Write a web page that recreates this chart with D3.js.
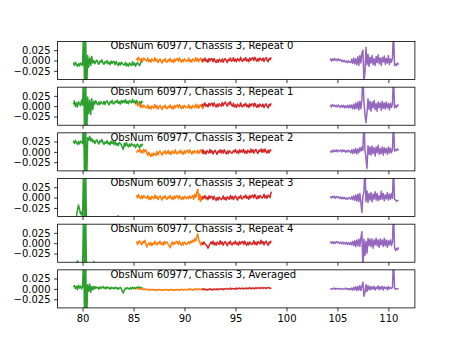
<!DOCTYPE html>
<html><head><meta charset="utf-8">
<script src="https://cdn.jsdelivr.net/npm/d3@7"></script>
<style>body{margin:0;background:#fff}</style>
</head><body>
<script>
// Panel titles
const titles = ["ObsNum 60977, Chassis 3, Repeat 0","ObsNum 60977, Chassis 3, Repeat 1","ObsNum 60977, Chassis 3, Repeat 2","ObsNum 60977, Chassis 3, Repeat 3","ObsNum 60977, Chassis 3, Repeat 4","ObsNum 60977, Chassis 3, Averaged"];
const xTicks = [80, 85, 90, 95, 100, 105, 110];
const yTicks = [-0.025, 0, 0.025];
// sample grids (start, step) per series
const greenStart = 79.1, orangeStart = 85.3, redStart = 91.7, purpleStart = 104.3, sampleStep = 0.1;

// Repeat 0
const g0 = [-.005,-.012,-.004,-.010,-.014,-.007,-.013,-.006,-.009,-.012,
 .08,-.08,.06,-.08,.012,-.016,.006,-.012,.010,-.006,
 .000,-.008,-.002,.001,-.005,-.009,-.001,-.004,.002,-.006,
 -.009,-.003,-.006,.000,-.008,-.004,-.010,-.001,-.007,-.002,
 -.003,-.010,-.002,-.008,-.012,-.005,-.011,-.004,-.007,-.010,
 -.011,-.004,-.013,-.008,-.014,-.006,-.009,-.012,-.003,-.011,
 -.006,-.014,-.008,-.005,-.010,-.012,-.004,-.004,.000];
const o0 = [.007,.000,.008,.002,-.002,.005,-.001,.006,.003,.000,
 -.001,.006,-.003,.002,-.004,.004,.001,-.002,.007,-.001,
 .003,-.005,.001,.004,-.002,-.006,.002,-.001,.005,-.003,
 -.004,.002,-.001,.005,-.003,.001,-.005,.004,-.002,.003,
 .005,-.002,.006,.000,-.004,.003,-.003,.004,.001,-.002,
 -.001,.006,-.003,.002,-.004,.004,.001,-.002,.007,-.001,
 .005,-.003,.003,.006,.000,-.004,.004];
const r0 = [-.003,.003,.000,.006,-.002,.002,-.004,.005,-.001,.004,
 .004,-.003,.005,-.001,-.005,.002,-.004,.003,.000,-.003,
 .004,-.004,.002,.005,-.001,-.005,.003,.000,.006,-.002,
 .000,.007,-.002,.003,-.003,.005,.002,-.001,.008,.000,
 -.002,.004,.001,.007,-.001,.003,-.003,.006,.000,.005,
 .007,.000,.008,.002,-.002,.005,-.001,.006,.003,.000,
 .006,-.002,.004,.007,.001,-.003,.005,.002,.008];
const p0 = [.005,-.001,.004,.000,.005,.001,.003,-.001,.004,.001,
 .002,-.002,.001,-.003,.000,-.004,-.001,-.005,-.001,-.004,
 -.005,.003,-.007,.006,-.008,.004,-.010,.009,-.012,.012,
 -.006,.018,.025,-.05,-.03,.032,-.010,.015,-.014,.008,
 -.006,.012,-.010,.004,-.012,.010,-.005,.014,-.008,.006,
 -.012,.008,-.003,.011,-.009,.005,-.006,.012,-.010,.004,
 -.004,.006,.08,-.012,-.008,-.012,-.006,-.010];
// Repeat 1
const g1 = [.004,.013,-.001,.008,-.002,.011,.006,.001,.015,.003,
 .08,-.08,.07,-.08,.022,-.018,.015,-.020,.018,-.008,
 .012,.005,.013,.007,.003,.010,.004,.011,.008,.005,
 .012,.004,.010,.013,.007,.003,.011,.008,.014,.006,
 .006,.012,.009,.015,.007,.011,.005,.014,.008,.013,
 .009,.016,.007,.012,.006,.014,.011,.008,.017,.009,
 .013,.006,.014,.008,.004,.011,.005,.012,.009];
const o1 = [.008,.001,.008,.002,-.003,.003,-.003,.003,.000,-.004,
 -.004,.003,-.006,-.001,-.007,.001,-.002,-.005,.004,-.004,
 .001,-.007,-.001,.002,-.004,-.008,.000,-.003,.003,-.005,
 -.006,.000,-.003,.003,-.005,-.001,-.007,.002,-.004,.001,
 .003,-.004,.004,-.002,-.006,.001,-.005,.002,-.001,-.004,
 -.003,.004,-.005,.000,-.006,.002,-.001,-.004,.005,-.003,
 .003,-.005,.001,.004,-.002,-.006,.002];
const r1 = [-.001,.005,.002,.008,.000,.004,-.002,.007,.001,.006,
 .007,.000,.008,.002,-.002,.005,-.001,.006,.003,.000,
 .009,.001,.007,.010,.004,.000,.008,.005,.011,.003,
 .000,.007,-.002,.003,-.003,.005,.002,-.001,.008,.000,
 -.002,.004,.001,.007,-.001,.003,-.003,.006,.000,.005,
 .006,-.001,.007,.001,-.003,.004,-.002,.005,.002,-.001,
 .005,-.003,.003,.006,.000,-.004,.004,.001,.007];
const p1 = [.003,-.002,.004,.000,.003,-.001,.002,-.002,.003,.000,
 -.003,.002,-.002,.002,-.004,.001,-.003,.002,-.004,.003,
 -.004,.003,-.006,.005,-.007,.008,-.005,.010,-.009,.012,
 -.006,.016,.08,.010,-.020,-.040,-.015,.018,-.008,.012,
 -.012,.010,-.004,.014,-.008,.006,-.012,.010,-.003,.008,
 -.010,.012,-.005,.008,-.007,.010,-.004,.006,-.009,.008,
 -.003,.005,.08,-.004,.002,-.003,.003,.001];
// Repeat 2
const g2 = [.027,.020,.028,.022,.018,.025,.019,.026,.023,.020,
 .08,-.08,.07,-.08,.034,.028,.038,.026,.032,.024,
 .028,.020,.026,.029,.023,.019,.027,.024,.030,.022,
 .018,.024,.021,.027,.019,.023,.017,.026,.020,.025,
 .018,.025,.016,.021,.015,.023,.020,.017,.010,.006,
 .021,.014,.022,.016,.012,.019,.013,.020,.017,.014,
 .018,.010,.016,.019,.013,.009,.017,.014,.020];
const o2 = [-.002,.004,.001,.007,-.001,.003,-.003,.006,.000,.005,
 -.002,-.009,-.001,-.007,-.011,-.004,-.010,-.003,-.006,-.009,
 .001,-.007,-.001,.002,-.004,-.008,.000,-.003,.003,-.005,
 -.003,.004,-.005,.000,-.006,.002,-.001,-.004,.005,-.003,
 -.005,.001,-.002,.004,-.004,.000,-.006,.003,-.003,.002,
 .004,-.003,.005,-.001,-.005,.002,-.004,.003,.000,-.003,
 .004,-.004,.002,.005,-.001,-.005,.003];
const r2 = [-.002,.005,-.004,.001,-.005,.003,.000,-.003,.006,-.002,
 .003,-.005,.001,.004,-.002,-.006,.002,-.001,.005,-.003,
 .004,-.003,.005,-.001,-.005,.002,-.004,.003,.000,-.003,
 -.003,.003,.000,.006,-.002,.002,-.004,.005,-.001,.004,
 -.001,.006,-.003,.002,-.004,.004,.001,-.002,.007,-.001,
 .005,-.003,.003,.006,.000,-.004,.004,.001,.007,-.001,
 .006,-.001,.007,.001,-.003,.004,-.002,.005,.002];
const p2 = [.002,-.001,.004,.000,.004,.001,.005,.000,.004,.002,
 .004,.000,.005,.001,.004,-.001,.003,.000,.004,.001,
 -.002,.005,-.004,.006,-.003,.008,-.005,.007,-.002,.010,
 .002,.012,.004,.08,.005,-.015,-.040,.015,-.006,.012,
 -.008,.014,-.004,.010,-.010,.012,-.002,.016,-.006,.008,
 -.004,.012,-.008,.010,-.002,.008,-.006,.012,-.003,.009,
 -.002,.006,.08,.002,.006,.003,.007,.004];
// Repeat 3
const g3 = [-.070,-.065,-.058,-.045,-.030,-.018,-.028,-.040,-.035,-.050,
 .08,-.09,.07,-.09,-.070,-.066,-.072,-.064,-.070,-.062,
 -.068,-.060,-.066,-.058,-.064,-.070,-.062,-.067,-.060,-.065,
 -.058,-.064,-.060,-.066,-.059,-.063,-.057,-.062,-.056,-.061,
 -.055,-.060,-.052,-.058,-.044,-.056,-.053,-.059,-.055,-.061,
 -.057,-.062,-.058,-.064,-.060,-.066,-.061,-.067,-.062,-.066,
 -.063,-.068,-.064,-.069,-.065,-.070,-.066,-.071,-.067];
const o3 = [.006,-.001,.007,.001,-.003,.004,-.002,.005,.002,-.001,
 -.002,.005,-.004,.001,-.005,.003,.000,-.003,.006,-.002,
 .003,-.005,.001,.004,-.002,-.006,.002,-.001,.005,-.003,
 -.004,.002,-.001,.005,-.003,.001,-.005,.004,-.002,.003,
 .004,-.003,.005,-.001,-.005,.002,-.004,.003,.000,-.003,
 .002,-.003,.004,-.002,.001,.005,-.004,.008,.000,.012,
 .020,-.006,.008,-.009,.003,-.004,.001];
const r3 = [-.004,.002,-.001,.005,-.003,.001,-.005,.004,-.002,.003,
 .002,-.005,.003,-.003,-.007,.000,-.006,.001,-.002,-.005,
 -.003,.004,-.005,.000,-.006,.002,-.001,-.004,.005,-.003,
 .003,-.005,.001,.004,-.002,-.006,.002,-.001,.005,-.003,
 -.003,.003,.000,.006,-.002,.002,-.004,.005,-.001,.004,
 .006,-.001,.007,.001,-.003,.004,-.002,.005,.002,-.001,
 .001,.008,-.001,.004,-.002,.006,.003,.000,.014];
const p3 = [.003,-.001,.003,.000,.003,-.002,.002,.000,.002,-.002,
 .001,-.003,.001,-.003,.000,-.004,-.001,-.004,.000,-.002,
 -.004,.002,-.005,.004,-.007,.006,-.008,.008,-.010,.010,
 -.012,-.036,.004,.012,.08,-.010,.016,-.012,.010,-.006,
 .012,-.010,.008,-.004,.014,-.006,.010,-.008,.004,-.005,
 .015,-.004,.010,-.008,.006,-.003,.012,-.006,.008,-.004,
 .010,-.002,.08,-.004,-.006,-.009,-.007,-.008];
// Repeat 4
const g4 = [-.066,-.060,-.054,-.048,-.043,-.050,-.058,-.062,-.056,-.060,
 .08,-.09,.07,-.09,-.064,-.058,-.062,-.055,-.050,-.060,
 -.044,-.056,-.062,-.066,-.060,-.064,-.068,-.062,-.066,-.070,
 -.064,-.068,-.062,-.066,-.070,-.064,-.068,-.072,-.066,-.070,
 -.064,-.068,-.072,-.066,-.070,-.074,-.068,-.072,-.066,-.070,
 -.074,-.068,-.072,-.066,-.070,-.074,-.068,-.072,-.076,-.070,
 -.074,-.068,-.072,-.076,-.070,-.074,-.068,-.072,-.070];
const o4 = [.005,-.003,.003,.006,.000,-.004,.004,.001,.007,-.001,
 -.009,-.003,.001,-.004,.002,-.006,.000,-.003,.005,-.002,
 -.004,.002,-.001,.005,-.003,.001,-.005,.004,-.002,.003,
 .002,-.003,-.007,-.011,-.002,.003,-.004,.002,-.001,.004,
 .004,-.003,.005,-.001,-.005,.002,-.004,.003,.000,-.003,
 .000,.004,-.002,.005,.001,.007,.003,.011,.005,.016,
 .022,.007,.003,-.005,.002,-.003,.001];
const r4 = [.002,-.003,.003,-.001,-.004,-.006,-.012,-.007,-.002,.003,
 -.002,.005,-.004,.001,-.005,.003,.000,-.003,.006,-.002,
 .003,-.005,.001,.004,-.002,-.006,.002,-.001,.005,-.003,
 -.004,.002,-.001,.005,-.003,.001,-.005,.004,-.002,.003,
 .004,-.003,.005,-.001,-.005,.002,-.004,.003,.000,-.003,
 -.001,.006,-.003,.002,-.004,.004,.001,-.002,.007,-.001,
 .004,-.004,.002,.005,-.001,-.005,.003,.000,.006];
const p4 = [.004,.000,.004,-.001,.003,.000,.004,.001,.003,-.001,
 .002,-.001,.003,-.002,.001,-.002,.002,-.003,.001,-.003,
 .002,-.004,.004,-.006,.006,-.008,.008,-.006,.010,-.008,
 .012,.028,-.06,.010,-.030,.005,-.024,.012,-.006,.010,
 -.008,.010,-.012,.008,-.004,.012,-.006,.008,-.010,.010,
 -.004,.008,-.008,.012,-.006,.008,-.010,.006,-.004,.008,
 -.006,.004,.08,-.010,-.018,-.012,-.016,-.010];
// Averaged
const g5 = [.004,.008,.001,.006,-.002,.009,.002,.007,.000,.005,
 .08,-.08,.07,-.08,.010,-.006,.012,-.008,.006,-.002,
 .006,.000,.005,.002,.004,-.001,.005,.001,.003,.006,
 .001,.004,.000,.005,.002,.003,-.001,.004,.001,.003,
 .000,.004,.001,.003,-.001,.002,.004,.000,-.006,-.010,
 -.003,.002,.000,.003,.001,-.001,.003,.000,.004,.001,
 .003,.000,.004,.002,.005,.001,.004,.002,.003];
const o5 = [.002,.000,.001,-.001,.001,-.001,.000,-.002,.000,-.001,
 -.002,-.001,-.003,-.001,-.002,-.003,-.001,-.003,-.002,-.004,
 -.002,-.003,-.001,-.003,-.002,-.004,-.002,-.003,-.001,-.003,
 -.002,-.004,-.002,-.003,-.001,-.003,-.002,-.004,-.002,-.003,
 -.001,-.003,-.002,-.003,-.001,-.002,-.003,-.001,-.002,-.003,
 -.001,-.002,.000,-.002,-.001,-.003,-.001,-.002,.000,-.002,
 -.001,.000,-.002,-.001,.000,-.001,-.001];
const r5 = [-.001,-.002,.000,-.002,-.001,-.003,-.001,-.002,.000,-.002,
 -.001,-.003,.000,-.001,-.002,.000,-.002,-.001,.001,-.001,
 .000,-.002,.001,-.001,.000,.001,-.001,.000,.002,-.001,
 .001,.000,.001,-.001,.002,.000,.001,.002,.000,.001,
 .002,.000,.001,.002,.000,.002,.001,.003,.000,.002,
 .001,.002,.000,.003,.001,.002,.003,.001,.002,.003,
 .001,.003,.002,.001,.003,.002,.003,.001,.002];
const p5 = [.001,-.001,.001,.000,.002,-.001,.001,.000,.001,-.001,
 .001,-.001,.001,-.001,.000,.002,-.001,.001,-.002,.001,
 -.002,.002,-.003,.004,-.002,.005,-.004,.006,-.003,.008,
 -.004,.006,.016,-.018,-.008,.010,-.006,.008,-.002,.006,
 -.002,.005,.000,.006,-.003,.004,.001,.007,-.002,.005,
 .000,.006,-.003,.005,.001,.004,-.002,.006,.000,.003,
 .001,.004,.08,.002,-.001,.001,.000,.001];

const greens = [g0,g1,g2,g3,g4,g5], oranges = [o0,o1,o2,o3,o4,o5], reds = [r0,r1,r2,r3,r4,r5], purples = [p0,p1,p2,p3,p4,p5];
const seriesDefs = [
  {rows: greens, start: greenStart, color: "#2ca02c"},
  {rows: oranges, start: orangeStart, color: "#ff7f0e"},
  {rows: reds, start: redStart, color: "#d62728"},
  {rows: purples, start: purpleStart, color: "#9467bd"}
];

const W = 461, H = 346;
const L = 57.6, R = 414.9, T = 41.5, B = 307.9;
const nP = 6, hs = 0.2;
const ph = (B - T) / (nP + (nP - 1) * hs), gap = ph * hs;

const svg = d3.select("body").append("svg").attr("width", W).attr("height", H)
  .style("font-family", "'DejaVu Sans'");
const x = d3.scaleLinear().domain([77.55, 112.6]).range([L, R]);

for (let i = 0; i < nP; i++) {
  const top = T + i * (ph + gap);
  const y = d3.scaleLinear().domain([-0.046, 0.046]).range([top + ph, top]);
  const g = svg.append("g");
  g.append("clipPath").attr("id", "clip" + i).append("rect")
    .attr("x", L).attr("y", top).attr("width", R - L).attr("height", ph);
  const line = d3.line().x(d => x(d[0])).y(d => y(d[1]));
  const lg = g.append("g").attr("clip-path", `url(#clip${i})`);
  seriesDefs.forEach(s => {
    const pts = s.rows[i].map((v, k) => [s.start + k * sampleStep, v]);
    lg.append("path").attr("d", line(pts)).attr("fill", "none")
      .attr("stroke", s.color).attr("stroke-width", 1.5).attr("stroke-linejoin", "round");
  });
  const xa = d3.axisBottom(x).tickValues(xTicks).tickSize(3.5).tickPadding(3.5)
    .tickFormat(i === nP - 1 ? d3.format("d") : () => "");
  const xg = g.append("g").attr("transform", `translate(0,${top + ph})`).call(xa);
  const ya = d3.axisLeft(y).tickValues(yTicks).tickSize(3.5).tickPadding(3.5).tickFormat(d3.format(".3f"));
  const yg = g.append("g").attr("transform", `translate(${L},0)`).call(ya);
  [xg, yg].forEach(a => {
    a.select(".domain").remove();
    a.selectAll("line").attr("stroke", "#000").attr("stroke-width", 0.8);
    a.selectAll("text").attr("fill", "#000").attr("font-family", "'DejaVu Sans'").attr("font-size", 10);
  });
  g.append("rect").attr("x", L).attr("y", top).attr("width", R - L).attr("height", ph)
    .attr("fill", "none").attr("stroke", "#000").attr("stroke-width", 0.8);
  g.append("text").attr("x", 110.5).attr("y", top + 7.8).attr("font-size", 10)
    .attr("fill", "#000").text(titles[i]);
}
</script>
</body></html>
